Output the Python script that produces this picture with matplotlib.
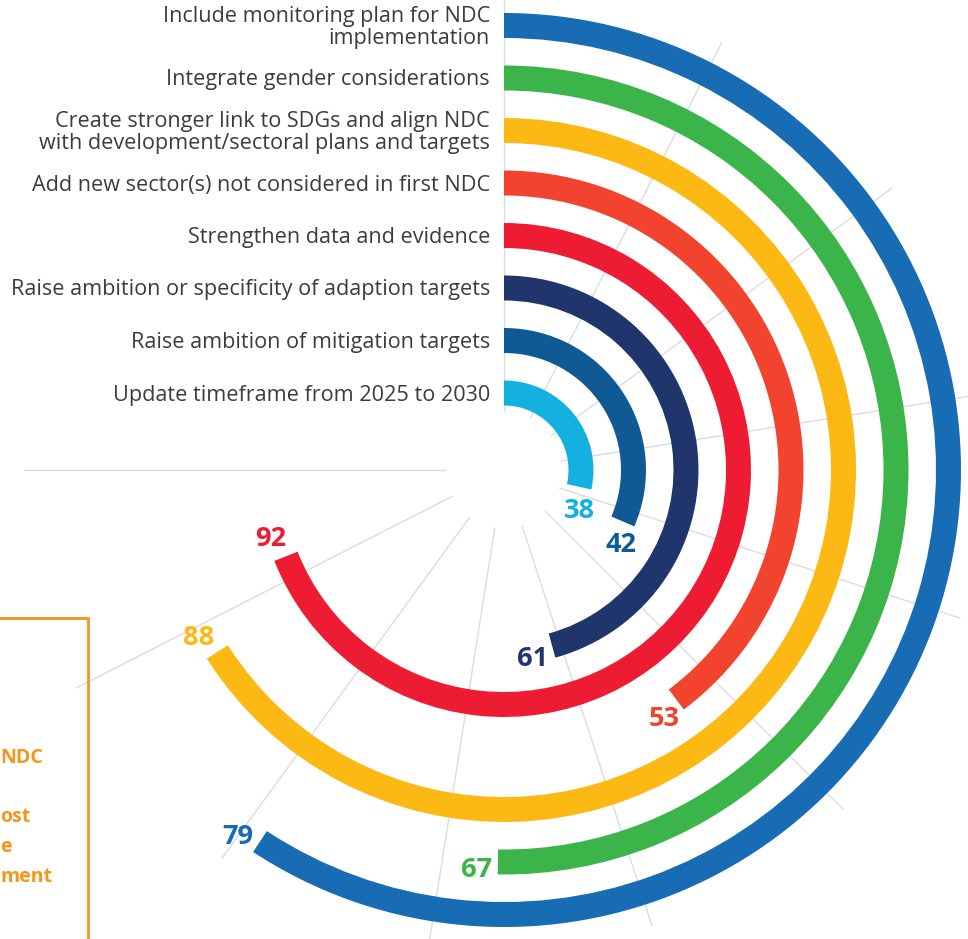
import numpy as np
import matplotlib.pyplot as plt
from matplotlib.patches import Rectangle

plt.rcParams['font.family'] = ['Open Sans', 'DejaVu Sans']

# data, innermost ring first
categories = [
    "Update timeframe from 2025 to 2030",
    "Raise ambition of mitigation targets",
    "Raise ambition or specificity of adaption targets",
    "Strengthen data and evidence",
    "Add new sector(s) not considered in first NDC",
    "Create stronger link to SDGs and align NDC\nwith development/sectoral plans and targets",
    "Integrate gender considerations",
    "Include monitoring plan for NDC\nimplementation",
]
values = [38, 42, 61, 92, 53, 88, 67, 79]
colors = ["#14b1e0", "#0f5a94", "#1f356b", "#ee1c33", "#f2432e", "#fdb913", "#3bb44a", "#186cb4"]

# visible (cut-off) fragments of the side note
box_lines = ["NDC", "", "ost", "e", "ment"]

W, H = 968, 939
fig = plt.figure(figsize=(W / 100, H / 100), dpi=100)

# polar axes, 1 data unit = 1 px, centre at (504, 470) from top-left
cx, cy, R = 504, 470, 480
ax = fig.add_axes([(cx - R) / W, (H - cy - R) / H, 2 * R / W, 2 * R / H], projection='polar')
ax.set_theta_zero_location('N')
ax.set_theta_direction(-1)
ax.set_rorigin(0)
ax.set_ylim(58, R)
ax.patch.set_visible(False)
for s in ax.spines.values():
    s.set_linewidth(0)
    s.set_edgecolor('none')
ax.set_thetagrids(np.arange(0, 271, 27), labels=[])
ax.set_yticks([])
ax.xaxis.grid(True, color="#dcdcdc", lw=1)
ax.set_axisbelow(True)

deg_per_pct = 2.7
r0, step, thick = 77, 52.5, 25
radii = r0 + step * np.arange(len(values))
ends = np.deg2rad(np.array(values) * deg_per_pct)

ax.bar(ends / 2, thick, width=ends, bottom=radii - thick / 2, color=colors, align='center', zorder=2)

for lab, r, v, e, c in zip(categories, radii, values, ends, colors):
    ax.annotate(lab, xy=(0, r), xytext=(-14, -2), textcoords='offset pixels',
                ha='right', va='center', multialignment='right',
                fontsize=15.6, color="#3c3c3c", linespacing=1.12, annotation_clip=False)
    ax.annotate(str(v), xy=(e + 21 / r, r + 9), ha='center', va='center',
                fontsize=19.5, fontweight='bold', color=c, annotation_clip=False)

# partly hidden orange note box on the left
fig.add_artist(Rectangle((-20 / W, -0.05), 108 / W, 1.05 - 618 / H, transform=fig.transFigure,
                         fill=False, ec="#f7941d", lw=2))
for i, t in enumerate(box_lines):
    fig.text(0, 1 - (758 + 29.7 * i) / H, t, ha='left', va='center',
             fontsize=14, fontweight='bold', color="#f7941d")

fig.savefig("out.png", dpi=100)
